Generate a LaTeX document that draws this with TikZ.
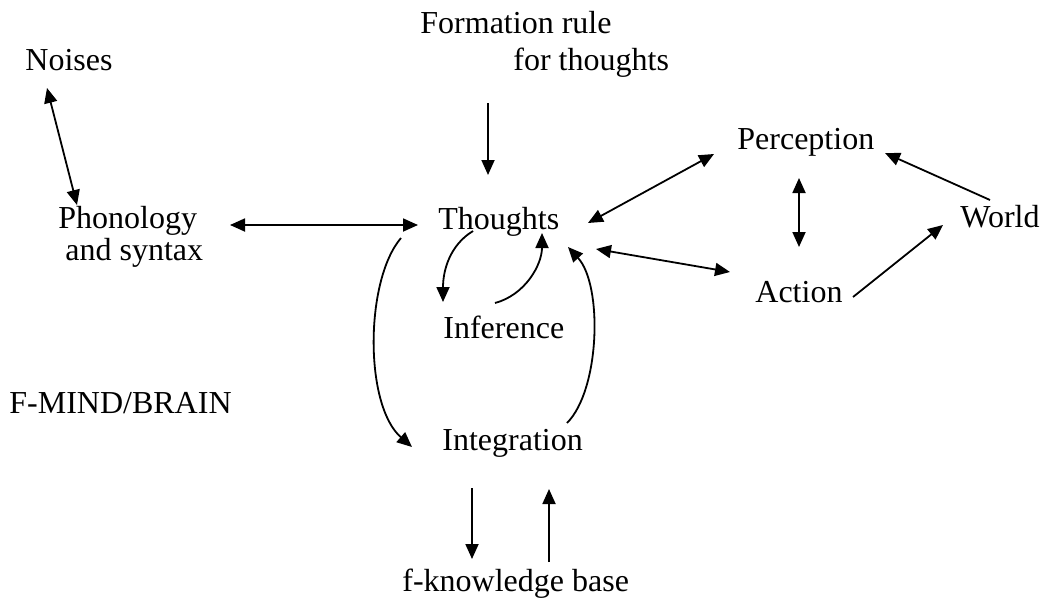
\documentclass[tikz,border=0pt]{standalone}
\usepackage{fontspec}
\setmainfont{Liberation Serif}
\usetikzlibrary{arrows.meta}
\begin{document}
\begin{tikzpicture}[x=0.5pt,y=-0.5pt,
  lbl/.style={anchor=base west,inner sep=0pt,font=\fontsize{16}{19}\selectfont},
  conn/.style={line width=0.9pt,-{Triangle[length=7.5pt,width=6.5pt]}},
  biconn/.style={line width=0.9pt,{Triangle[length=7.5pt,width=6.5pt]}-{Triangle[length=7.5pt,width=6.5pt]}}]
\useasboundingbox (0,0) rectangle (1043,605);

% labels
\node[lbl] (form1) at (420,33) {Formation rule};
\node[lbl] (form2) at (513,70) {for thoughts};
\node[lbl] (noises) at (25,70) {Noises};
\node[lbl] (phon1) at (58,228) {Phonology};
\node[lbl] (phon2) at (65,260) {and syntax};
\node[lbl] (thoughts) at (438,229) {Thoughts};
\node[lbl] (inference) at (443,338) {Inference};
\node[lbl] (integration) at (442,450) {Integration};
\node[lbl] (kbase) at (402,591) {f-knowledge base};
\node[lbl] (fmind) at (9,413) {F-MIND/BRAIN};
\node[lbl] (perception) at (737,149) {Perception};
\node[lbl] (action) at (755,302) {Action};
\node[lbl] (world) at (960,227) {World};

% connector end points
\coordinate (form-s) at (488,103);
\coordinate (th-n) at (488,175);
\coordinate (no-s) at (47,88);
\coordinate (ph-n) at (77,205);
\coordinate (ph-e) at (230,225);
\coordinate (th-w) at (418,225);
\coordinate (th-ne) at (588,223);
\coordinate (pe-sw) at (714,154);
\coordinate (th-e) at (596,249);
\coordinate (ac-w) at (730,272);
\coordinate (pe-s) at (799,178);
\coordinate (ac-n) at (799,247);
\coordinate (ac-e) at (853,297);
\coordinate (wo-sw) at (943,225);
\coordinate (wo-nw) at (990,200);
\coordinate (pe-e) at (885,153);
\coordinate (th-s1) at (473,231);
\coordinate (in-n1) at (443,302);
\coordinate (in-n2) at (495,303);
\coordinate (th-s2) at (542,233);
\coordinate (th-sw) at (401,238);
\coordinate (ig-w) at (412,447);
\coordinate (ig-e) at (567,423);
\coordinate (th-se) at (568,247);
\coordinate (ig-s1) at (472,488);
\coordinate (kb-n1) at (472,559);
\coordinate (kb-n2) at (549,562);
\coordinate (ig-s2) at (549,489);

% straight connectors
\draw[conn] (form-s) -- (th-n);
\draw[biconn] (no-s) -- (ph-n);
\draw[biconn] (ph-e) -- (th-w);
\draw[biconn] (th-ne) -- (pe-sw);
\draw[biconn] (th-e) -- (ac-w);
\draw[biconn] (pe-s) -- (ac-n);
\draw[conn] (ac-e) -- (wo-sw);
\draw[conn] (wo-nw) -- (pe-e);
\draw[conn] (ig-s1) -- (kb-n1);
\draw[conn] (kb-n2) -- (ig-s2);

% curved connectors
\draw[conn] (th-s1) .. controls (450,245) and (443,270) .. (in-n1);
\draw[conn] (in-n2) .. controls (525,295) and (542,265) .. (th-s2);
\draw[conn] (th-sw) .. controls (365,280) and (364,405) .. (ig-w);
\draw[conn] (ig-e) .. controls (600,390) and (603,285) .. (th-se);
\end{tikzpicture}
\end{document}
